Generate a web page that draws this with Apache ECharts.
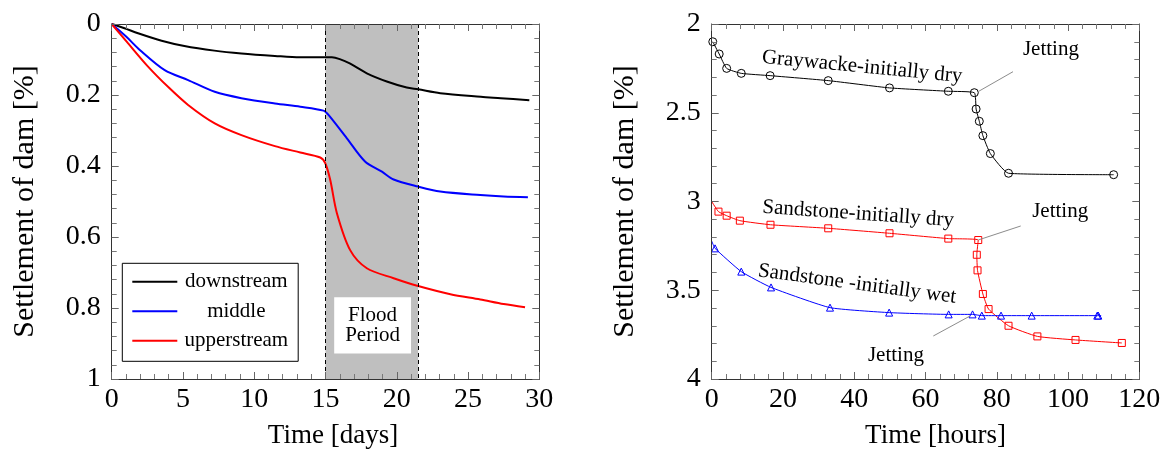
<!DOCTYPE html>
<html><head><meta charset="utf-8">
<script src="https://cdn.jsdelivr.net/npm/echarts@6/dist/echarts.min.js"></script>
<style>html,body{margin:0;padding:0;background:#fff}#c{width:1169px;height:462px}</style>
</head><body><div id="c"></div><script>
// ---------- Left panel data (Time [days] vs settlement [%]) ----------
const downDays = [0, 0.9, 1.85, 3.5, 5.1, 7.2, 9.1, 11.45, 13.2, 15.45, 16.0, 16.7, 17.9, 19.3, 20.7, 21.5, 23.05, 25.9, 27.3, 29.3];
const downVals = [0, 0.012, 0.026, 0.047, 0.062, 0.075, 0.083, 0.09, 0.094, 0.094, 0.099, 0.111, 0.139, 0.162, 0.179, 0.184, 0.195, 0.205, 0.209, 0.215];
const midDays = [0, 1.03, 1.97, 3.72, 5.36, 7.23, 9.1, 11.45, 13.23, 14.86, 15.21, 16.5, 17.79, 18.96, 19.78, 21.5, 23.05, 25.86, 27.5, 29.2];
const midVals = [0, 0.036, 0.073, 0.13, 0.158, 0.191, 0.209, 0.224, 0.233, 0.244, 0.256, 0.322, 0.388, 0.416, 0.438, 0.458, 0.472, 0.482, 0.486, 0.488];
const upDays = [0, 1.14, 2.55, 3.95, 5.36, 7.23, 9.1, 11.45, 13.23, 14.63, 14.98, 15.33, 15.8, 16.73, 17.9, 19.78, 21.5, 23.76, 25.86, 27.5, 29];
const upVals = [0, 0.054, 0.12, 0.177, 0.228, 0.28, 0.313, 0.344, 0.362, 0.376, 0.392, 0.439, 0.533, 0.637, 0.688, 0.716, 0.738, 0.761, 0.776, 0.789, 0.798];
const leftNames = ['downstream', 'middle', 'upperstream'];
const floodStart = 15, floodEnd = 21.5;
const floodText = 'Flood\nPeriod';

// ---------- Right panel data (Time [hours] vs settlement [%]) ----------
const grayHours = [0.3, 2.1, 4.2, 8.3, 16.4, 32.7, 49.9, 66.4, 73.7, 74.2, 75.1, 76.1, 78.2, 83.3, 112.8];
const grayVals = [2.10, 2.169, 2.25, 2.278, 2.291, 2.319, 2.36, 2.379, 2.387, 2.479, 2.548, 2.629, 2.73, 2.841, 2.849];
const sdryHours = [0, 1.9, 4.2, 7.9, 16.5, 32.7, 49.9, 66.4, 74.8, 74.4, 74.6, 76.1, 77.7, 83.3, 91.4, 102.1, 115.1];
const sdryVals = [3.0, 3.057, 3.08, 3.108, 3.131, 3.151, 3.179, 3.209, 3.217, 3.30, 3.388, 3.521, 3.606, 3.70, 3.76, 3.78, 3.797];
const swetHours = [0, 0.94, 8.3, 16.65, 33.2, 49.8, 66.5, 73.2, 75.8, 81.2, 89.8, 108.2, 108.5, 109.3];
const swetVals = [3.223, 3.264, 3.395, 3.484, 3.598, 3.626, 3.636, 3.636, 3.643, 3.643, 3.643, 3.643, 3.643, 3.643];
const rightNames = ['Graywacke-initially dry', 'Sandstone-initially dry', 'Sandstone -initially wet'];

// axis ticks
const leftX = {min: 0, max: 30, interval: 5};
const leftY = {min: 0, max: 1, interval: 0.2};
const rightX = {min: 0, max: 120, interval: 20};
const rightY = {min: 2, max: 4, interval: 0.5};

const FONT = "'Liberation Serif','Times New Roman',serif";
const pairs = (xs, ys) => xs.map((x, i) => [x, ys[i]]);
const withUnmarked = (xs, ys, idx) => xs.map((x, i) => idx.includes(i) ? {value: [x, ys[i]], symbol: 'none'} : [x, ys[i]]);

function axis(kind, grid, pos, sc, showLabel, name, nameGap, nameFont, namePad) {
  const a = {
    type: 'value', gridIndex: grid, position: pos,
    min: sc.min, max: sc.max, interval: sc.interval,
    inverse: kind === 'y',
    axisLine: {show: true, onZero: false, lineStyle: {color: '#333', width: 1}},
    axisTick: {show: true, inside: true, length: 7, lineStyle: {color: '#666', width: 1}},
    minorTick: {show: true, splitNumber: 5, length: 5, lineStyle: {color: '#777', width: 1}},
    splitLine: {show: false}, minorSplitLine: {show: false},
    axisLabel: {show: showLabel, fontSize: 28, color: '#000', fontFamily: FONT, margin: kind === 'y' ? 11 : 7},
    z: 5
  };
  if (name) {
    a.name = name; a.nameLocation = 'middle'; a.nameGap = nameGap;
    a.nameTextStyle = {fontSize: nameFont, color: '#000', fontFamily: FONT, padding: namePad || 0};
  }
  return a;
}

const chart = echarts.init(document.getElementById('c'), null, {renderer: 'canvas'});
const option = {
  animation: false,
  backgroundColor: '#fff',
  textStyle: {fontFamily: FONT},
  grid: [
    {left: 111.7, right: 629.7, top: 24, bottom: 83},
    {left: 711.7, right: 29.7, top: 24, bottom: 83}
  ],
  xAxis: [
    axis('x', 0, 'bottom', leftX, true, 'Time [days]', 43, 27, [0, 0, 0, 15]),
    axis('x', 0, 'top', leftX, false),
    axis('x', 1, 'bottom', rightX, true, 'Time [hours]', 43, 27, [0, 0, 0, 20]),
    axis('x', 1, 'top', rightX, false)
  ],
  yAxis: [
    axis('y', 0, 'left', leftY, true, 'Settlement of dam [%]', 72, 30),
    axis('y', 0, 'right', leftY, false),
    axis('y', 1, 'left', rightY, true, 'Settlement of dam [%]', 72, 30),
    axis('y', 1, 'right', rightY, false)
  ],
  legend: {
    data: leftNames,
    orient: 'vertical', left: 122.3, top: 263.3,
    backgroundColor: '#fff', borderColor: '#000', borderWidth: 1, borderRadius: 0,
    padding: [8, 10, 10, 9], itemGap: 8.5, itemWidth: 45, itemHeight: 14,
    itemStyle: {opacity: 0, color: 'rgba(0,0,0,0)', borderWidth: 0},
    formatter: n => '{a|' + n + '}',
    textStyle: {color: '#000', fontFamily: FONT, fontSize: 21,
      rich: {a: {width: 108, align: 'center', fontSize: 21, fontFamily: FONT, color: '#000'}}},
    selectedMode: false
  },
  series: [
    {
      name: leftNames[0], type: 'line', xAxisIndex: 0, yAxisIndex: 0,
      data: pairs(downDays, downVals), symbol: 'none', smooth: 0.3,
      lineStyle: {color: '#000', width: 2}, itemStyle: {color: '#000'}, z: 4,
      markArea: {
        silent: true,
        data: [
          [{xAxis: floodStart, itemStyle: {color: '#bfbfbf', opacity: 1}}, {xAxis: floodEnd}],
          [{coord: [15.61, 0.77], itemStyle: {color: '#fff', opacity: 1},
            label: {show: true, position: 'inside', formatter: floodText, fontSize: 21, lineHeight: 20,
              color: '#000', fontFamily: FONT}},
           {coord: [21.0, 0.928]}]
        ]
      },
      markLine: {
        silent: true, symbol: ['none', 'none'], label: {show: false},
        lineStyle: {color: '#000', type: [4, 3], width: 1},
        data: [{xAxis: floodStart}, {xAxis: floodEnd}]
      }
    },
    {
      name: leftNames[1], type: 'line', xAxisIndex: 0, yAxisIndex: 0,
      data: pairs(midDays, midVals), symbol: 'none', smooth: 0.3,
      lineStyle: {color: '#0000ff', width: 2}, itemStyle: {color: '#0000ff'}, z: 4
    },
    {
      name: leftNames[2], type: 'line', xAxisIndex: 0, yAxisIndex: 0,
      data: pairs(upDays, upVals), symbol: 'none', smooth: 0.3,
      lineStyle: {color: '#ff0000', width: 2}, itemStyle: {color: '#ff0000'}, z: 4
    },
    {
      name: rightNames[0], type: 'line', xAxisIndex: 2, yAxisIndex: 2,
      data: pairs(grayHours, grayVals), symbol: 'circle', symbolSize: 8, smooth: 0.15,
      lineStyle: {color: '#000', width: 1},
      itemStyle: {color: 'rgba(0,0,0,0)', borderColor: '#000', borderWidth: 1}
    },
    {
      name: rightNames[1], type: 'line', xAxisIndex: 2, yAxisIndex: 2,
      data: withUnmarked(sdryHours, sdryVals, [0]), symbol: 'rect', symbolSize: 7, smooth: 0.15,
      lineStyle: {color: '#ff0000', width: 1},
      itemStyle: {color: 'rgba(0,0,0,0)', borderColor: '#ff0000', borderWidth: 1}
    },
    {
      name: rightNames[2], type: 'line', xAxisIndex: 2, yAxisIndex: 2,
      data: withUnmarked(swetHours, swetVals, [0, swetHours.length - 1]), symbol: 'triangle', symbolSize: 7, smooth: 0.15,
      lineStyle: {color: '#0000ff', width: 1},
      itemStyle: {color: 'rgba(0,0,0,0)', borderColor: '#0000ff', borderWidth: 1}
    }
  ]
};
chart.setOption(option);

// ---------- Right panel annotations (placed in data coordinates) ----------
const notes = [
  {text: rightNames[0], at: [42.2, 2.242], rot: 5.5},
  {text: rightNames[1], at: [41.1, 3.070], rot: 4},
  {text: rightNames[2], at: [40.8, 3.465], rot: 7.7},
  {text: 'Jetting', at: [95.2, 2.146], rot: 0},
  {text: 'Jetting', at: [97.8, 3.054], rot: 0},
  {text: 'Jetting', at: [51.7, 3.865], rot: 0}
];
const leaders = [
  [[84.56, 2.2687], [74.74, 2.3814]],
  [[86.72, 3.1380], [74.81, 3.2169]],
  [[62.19, 3.7577], [72.5, 3.645]]
];
const px = v => chart.convertToPixel({seriesIndex: 3}, v);
const graphics = [];
notes.forEach(n => {
  const p = px(n.at);
  graphics.push({type: 'text', x: p[0], y: p[1], rotation: -n.rot * Math.PI / 180, z: 10,
    style: {text: n.text, fontSize: 21, fontFamily: FONT, fill: '#000', align: 'center', verticalAlign: 'middle'}});
});
leaders.forEach(l => {
  const a = px(l[0]), b = px(l[1]);
  graphics.push({type: 'line', z: 10, shape: {x1: a[0], y1: a[1], x2: b[0], y2: b[1]},
    style: {stroke: '#8c8c8c', lineWidth: 1}});
});
chart.setOption({graphic: graphics});
</script></body></html>
